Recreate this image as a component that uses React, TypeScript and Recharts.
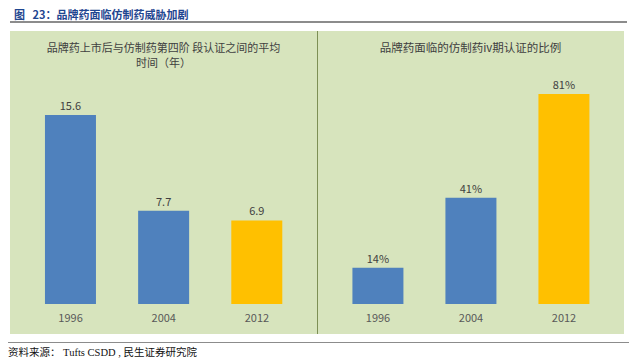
import React from "react";
import { BarChart, Bar, XAxis, YAxis, LabelList, Cell } from "recharts";

const years = ["1996", "2004", "2012"];
const avgYearsToGeneric = [15.6, 7.7, 6.9];
const genericIvShare = [14, 41, 81];

const leftTitle = ["品牌药上市后与仿制药第四阶 段认证之间的平均", "时间（年）"];
const rightTitle = "品牌药面临的仿制药iv期认证的比例";
const figureTitle = "图   23：品牌药面临仿制药威胁加剧";
const sourceNote = "资料来源： Tufts CSDD , 民生证券研究院";

const leftData = years.map((y, i) => ({ year: y, value: avgYearsToGeneric[i] }));
const rightData = years.map((y, i) => ({ year: y, value: genericIvShare[i] }));

const BLUE = "#4f81bd";
const GOLD = "#ffc000";
const PANEL = "#d7e4bd";
const TEXT = "#404040";
const cjk = '"Noto Sans CJK SC", "Liberation Sans", sans-serif';

const barColor = (year: string) => (year === "2012" ? GOLD : BLUE);

interface PanelProps {
  data: { year: string; value: number }[];
  max: number;
  margin: { top: number; right: number; left: number; bottom: number };
  fmt: (v: number) => string;
}

const Panel: React.FC<PanelProps> = ({ data, max, margin, fmt }) => (
  <BarChart width={307} height={303} data={data} margin={margin} barCategoryGap="22.5%">
    <XAxis
      dataKey="year"
      axisLine={false}
      tickLine={false}
      height={30}
      tickMargin={4}
      tick={{ fill: "#595959", fontSize: 11, fontFamily: cjk }}
    />
    <YAxis hide domain={[0, max]} />
    <Bar dataKey="value" isAnimationActive={false}>
      {data.map((d) => (
        <Cell key={d.year} fill={barColor(d.year)} />
      ))}
      <LabelList
        dataKey="value"
        position="top"
        offset={5}
        formatter={(v: any) => fmt(Number(v))}
        style={{ fill: TEXT, fontSize: 11, fontFamily: cjk }}
      />
    </Bar>
  </BarChart>
);

export default function App() {
  return (
    <div
      style={{
        position: "absolute",
        left: 0,
        top: 0,
        width: 640,
        height: 361,
        background: "#ffffff",
        fontFamily: cjk,
        overflow: "hidden",
      }}
    >
      <div
        style={{
          position: "absolute",
          left: 14,
          top: 6,
          fontSize: 11,
          fontWeight: "bold",
          color: "#1f4690",
          whiteSpace: "pre",
          lineHeight: "16px",
        }}
      >
        {figureTitle}
      </div>
      <div style={{ position: "absolute", left: 10, top: 21, width: 617, height: 2, background: "#8c8c8c" }} />

      <div style={{ position: "absolute", left: 10, top: 31, width: 614, height: 303, background: PANEL }} />
      <div style={{ position: "absolute", left: 317, top: 31, width: 1, height: 303, background: "#7d8f55" }} />

      <div
        style={{
          position: "absolute",
          left: 10,
          top: 40,
          width: 307,
          textAlign: "center",
          fontSize: 11,
          lineHeight: "15px",
          color: TEXT,
        }}
      >
        <div>{leftTitle[0]}</div>
        <div>{leftTitle[1]}</div>
      </div>
      <div
        style={{
          position: "absolute",
          left: 317,
          top: 40,
          width: 307,
          textAlign: "center",
          fontSize: 11.5,
          lineHeight: "15px",
          color: TEXT,
        }}
      >
        {rightTitle}
      </div>

      <div style={{ position: "absolute", left: 10, top: 31 }}>
        <Panel
          data={leftData}
          max={18.5}
          margin={{ top: 49, right: 13.5, left: 14, bottom: 0 }}
          fmt={(v) => v.toFixed(1)}
        />
      </div>
      <div style={{ position: "absolute", left: 317, top: 31 }}>
        <Panel
          data={rightData}
          max={86.4}
          margin={{ top: 49, right: 13.5, left: 14.5, bottom: 0 }}
          fmt={(v) => `${v}%`}
        />
      </div>

      <div style={{ position: "absolute", left: 8, top: 342, width: 621, height: 1, background: "#8c8c8c" }} />
      <div
        style={{
          position: "absolute",
          left: 8,
          top: 345,
          fontSize: 10.5,
          lineHeight: "15px",
          color: "#111111",
          whiteSpace: "pre",
          fontFamily: '"Liberation Serif", "Noto Sans CJK SC", serif',
        }}
      >
        {sourceNote}
      </div>
    </div>
  );
}
